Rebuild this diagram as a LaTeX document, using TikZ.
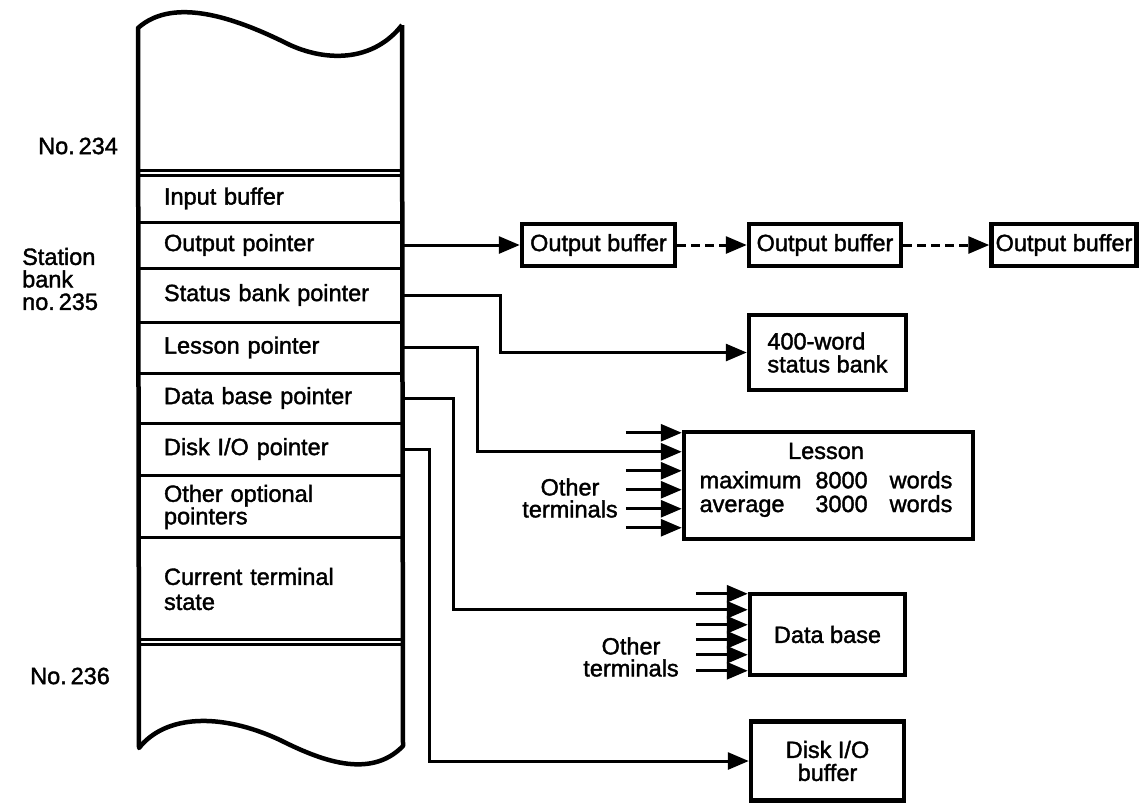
\documentclass[tikz,border=0pt]{standalone}
\usepackage{fontspec}
\setmainfont{Liberation Sans}[FakeBold=1.6]
\usetikzlibrary{arrows.meta,calc}
\begin{document}
\begin{tikzpicture}[x=1pt,y=-1pt,
  every node/.style={font=\fontsize{23.5}{24}\selectfont, inner sep=0pt},
  colline/.style={line width=4.5pt, line join=round},
  sepline/.style={line width=3pt},
  rowbox/.style={minimum width=264pt, text width=212pt, align=left, inner xsep=26pt, inner ysep=0pt, anchor=center},
  boxnode/.style={draw, line width=4.5pt, anchor=center, align=center},
  conn/.style={line width=3pt, -{Triangle[length=21pt,width=17pt]}},
  dconn/.style={conn, dash pattern=on 9pt off 5pt},
  lbl/.style={align=left, anchor=west}
]
\useasboundingbox[fill=white] (0,0) rectangle (1143,804);

% station bank column
\draw[colline] (402,25) -- (403,746) .. controls (370,780) and (320,760) .. (280,740)
  .. controls (220,712) and (165,715) .. (139,748) -- (138,28)
  .. controls (175,-5) and (240,20) .. (290,45) .. controls (330,63) and (375,60) .. (402,25);
\foreach \yy in {170,175,222,268,322,373,423,475,537,639,644}
  \draw[sepline] (138,\yy) -- (402,\yy);

\node[rowbox, minimum height=47pt] (inb) at (270,198.5) {Input buffer};
\node[rowbox, minimum height=46pt] (outp) at (270,245) {Output pointer};
\node[rowbox, minimum height=54pt] (stp) at (270,295) {Status bank pointer};
\node[rowbox, minimum height=51pt] (lsp) at (270,347.5) {Lesson pointer};
\node[rowbox, minimum height=50pt] (dbp) at (270,398) {Data base pointer};
\node[rowbox, minimum height=52pt] (dkp) at (270,449) {Disk I/O pointer};
\node[rowbox, minimum height=62pt, font=\fontsize{23.5}{22.5}\selectfont] (oop) at (270,507) {Other optional\\pointers};
\node[rowbox, minimum height=100pt, font=\fontsize{23.5}{25}\selectfont] (cts) at (270,589) {Current terminal\\state};

% left labels
\node[lbl] (n234) at (38,146) {No.\,234};
\node[lbl, font=\fontsize{23.5}{22.5}\selectfont] (s235) at (22,279) {Station\\bank\\no.\,235};
\node[lbl] (n236) at (30,676) {No.\,236};

% boxes
\node[boxnode, minimum width=153pt, minimum height=42pt] (ob1) at (598.5,245) {Output buffer};
\node[boxnode, minimum width=152pt, minimum height=42pt] (ob2) at (825,245) {Output buffer};
\node[boxnode, minimum width=145pt, minimum height=42pt] (ob3) at (1064,245) {Output buffer};
\node[boxnode, minimum width=157pt, minimum height=75pt, align=left, font=\fontsize{23.5}{23}\selectfont] (sb) at (827.5,352.5) {400-word\\status bank};
\node[boxnode, minimum width=289pt, minimum height=107pt] (lsb) at (828.5,485.5) {};
\node (lsbt) at (826,451) {Lesson};
\node (lsbm) at (826,495) {\fontsize{23.5}{22.5}\selectfont\begin{tabular}{@{}l@{\hspace{14pt}}r@{\hspace{22pt}}l@{}}maximum & 8000 & words\\ average & 3000 & words\end{tabular}};
\node[boxnode, minimum width=155pt, minimum height=81pt] (db) at (827.5,634.5) {Data base};
\node[boxnode, minimum width=153pt, minimum height=79pt, font=\fontsize{23.5}{23}\selectfont] (dk) at (827.5,761) {Disk I/O\\buffer};

\node[align=center, font=\fontsize{23.5}{22}\selectfont] (ot1) at (570,498) {Other\\terminals};
\node[align=center, font=\fontsize{23.5}{22}\selectfont] (ot2) at (631,657) {Other\\terminals};

% connectors
\draw[conn] (outp.east) -- (ob1.west);
\draw[dconn] (ob1.east) -- (ob2.west);
\draw[dconn] (ob2.east) -- (ob3.west);
\draw[conn] (stp.east) -- ++(98,0) |- (sb.west);
\draw[conn] (lsp.east) -- ++(75,0) |- ($(lsb.north west)+(0,22)$);
\draw[conn] (dbp.east) -- ++(51,0) |- ($(db.north west)+(0,18)$);
\draw[conn] (dkp.east) -- ++(27,0) |- (dk.west);

% other terminals into lesson
\foreach \i/\yy in {1/3,3/41,4/60,5/79,6/98}{
  \coordinate (la\i) at ($(lsb.north west)+(-56,\yy)$);
  \draw[conn] (la\i) -- (la\i -| lsb.west);
}
% other terminals into data base
\foreach \i/\yy in {1/2,3/33,4/48,5/63,6/79}{
  \coordinate (da\i) at ($(db.north west)+(-52,\yy)$);
  \draw[conn] (da\i) -- (da\i -| db.west);
}
\end{tikzpicture}
\end{document}
